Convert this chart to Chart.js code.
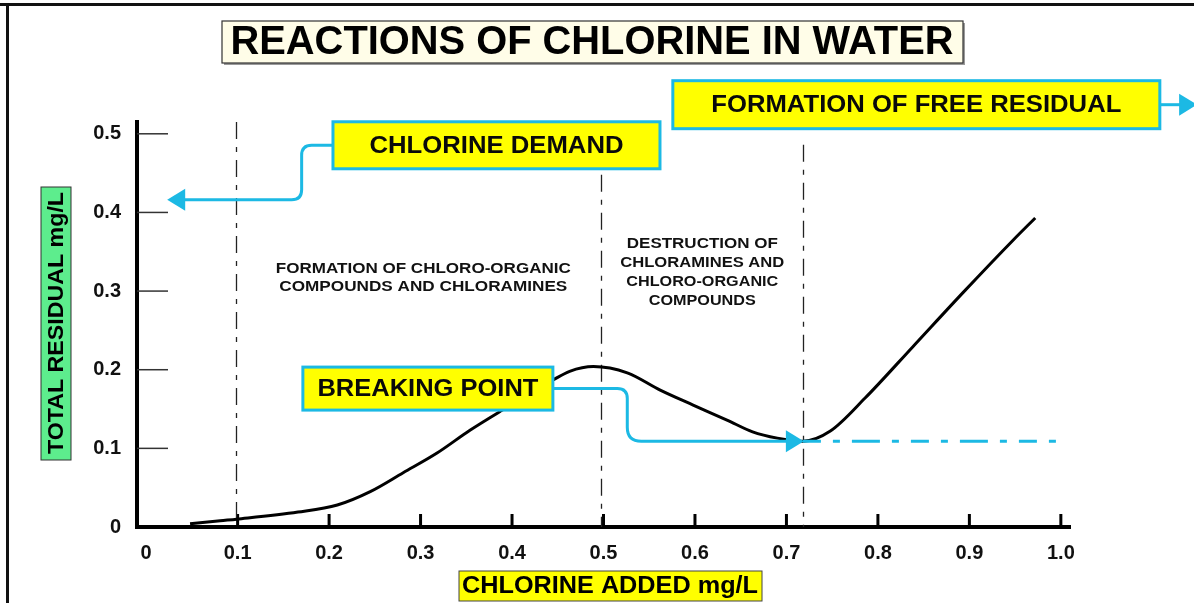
<!DOCTYPE html>
<html>
<head>
<meta charset="utf-8">
<title>Reactions of chlorine in water</title>
<script src="https://cdn.jsdelivr.net/npm/chart.js@4.4.1/dist/chart.umd.min.js"></script>
<style>
    html, body { margin: 0; padding: 0; background: #fff; }
    #wrap { width: 1194px; height: 603px; }
</style>
</head>
<body>
<div id="wrap"><canvas id="myChart" width="1194" height="603"></canvas></div>
<script>
// breakpoint chlorination curve: chlorine added vs total residual (both mg/L)
const chlorineAdded = [0.048, 0.081, 0.099, 0.166, 0.209, 0.245, 0.281, 0.318, 0.354, 0.390, 0.445, 0.463, 0.489,
    0.526, 0.562, 0.598, 0.635, 0.663, 0.690, 0.718, 0.748, 0.786, 0.838, 0.893, 0.948, 0.972];
const totalResidual = [0.004, 0.008, 0.010, 0.019, 0.028, 0.045, 0.069, 0.094, 0.123, 0.149, 0.187, 0.198, 0.204,
    0.196, 0.174, 0.155, 0.136, 0.121, 0.113, 0.109, 0.122, 0.164, 0.229, 0.298, 0.365, 0.393];

const xTicks = [0, 0.1, 0.2, 0.3, 0.4, 0.5, 0.6, 0.7, 0.8, 0.9, 1.0];
const xTickLabels = ['0', '0.1', '0.2', '0.3', '0.4', '0.5', '0.6', '0.7', '0.8', '0.9', '1.0'];
const yTicks = [0, 0.1, 0.2, 0.3, 0.4, 0.5];
const yTickLabels = ['0', '0.1', '0.2', '0.3', '0.4', '0.5'];

// dashed lines splitting the three zones (chlorine added) and the residual where each one starts
const zoneBounds = [0.098, 0.497, 0.718];
const zoneTops = [0.515, 0.448, 0.486];

// breaking point, and where the free residual line stops
const breakPoint = { x: 0.718, y: 0.109 };
const freeResidualEnd = 1.006;

const zoneTexts = [
    ['FORMATION OF CHLORO-ORGANIC', 'COMPOUNDS AND CHLORAMINES'],
    ['DESTRUCTION OF', 'CHLORAMINES AND', 'CHLORO-ORGANIC', 'COMPOUNDS']
];

const CYAN = '#1cb9e4';
const BOLD = '"Liberation Sans", Arial, sans-serif';

// draws text squeezed/stretched to a given width, centred on cx, cy
const fitText = (c, text, cx, cy, width, font) => {
    c.save();
    c.font = font;
    let w = c.measureText(text).width;
    c.translate(cx, cy);
    c.scale(width / w, 1);
    c.textAlign = 'center';
    c.textBaseline = 'middle';
    c.fillText(text, 0, 0);
    c.restore();
};

const arrowHead = (c, tipX, tipY, dir) => {
    c.beginPath();
    c.moveTo(tipX, tipY);
    c.lineTo(tipX - dir * 18, tipY - 11);
    c.lineTo(tipX - dir * 18, tipY + 11);
    c.closePath();
    c.fill();
};

const calloutBox = (c, cx, cy, w, h, text, textW) => {
    c.fillStyle = '#ffff00';
    c.fillRect(cx - w / 2, cy - h / 2, w, h);
    c.strokeStyle = CYAN;
    c.lineWidth = 3;
    c.strokeRect(cx - w / 2, cy - h / 2, w, h);
    c.fillStyle = '#0a0a0a';
    fitText(c, text, cx, cy + 1, textW, 'bold 24px ' + BOLD);
};

const diagram = {
    id: 'diagram',
    beforeDraw(chart) {
        const c = chart.ctx;
        c.save();
        // page frame
        c.fillStyle = '#111';
        c.fillRect(0, 3, chart.width, 3);
        c.fillRect(6, 3, 3, chart.height);

        // title
        c.fillStyle = '#9a9a9a';
        c.fillRect(224, 23, 741, 42);
        c.fillStyle = '#fffde8';
        c.fillRect(222, 21, 741, 42);
        c.strokeStyle = '#333';
        c.lineWidth = 1.2;
        c.strokeRect(222, 21, 741, 42);
        c.fillStyle = '#000';
        fitText(c, 'REACTIONS OF CHLORINE IN WATER', 592, 43, 723, 'bold 41px "Liberation Sans Narrow", ' + BOLD);

        // axis titles
        c.fillStyle = '#5ded8d';
        c.fillRect(41, 187, 30, 273);
        c.strokeStyle = '#333';
        c.lineWidth = 1;
        c.strokeRect(41, 187, 30, 273);
        c.save();
        c.translate(57, 323);
        c.rotate(-Math.PI / 2);
        c.fillStyle = '#000';
        fitText(c, 'TOTAL RESIDUAL mg/L', 0, 0, 262, 'bold 22px ' + BOLD);
        c.restore();

        c.fillStyle = '#ffff00';
        c.fillRect(459, 571, 303, 30);
        c.strokeStyle = '#444';
        c.strokeRect(459, 571, 303, 30);
        c.fillStyle = '#000';
        fitText(c, 'CHLORINE ADDED mg/L', 610, 587, 296, 'bold 23px ' + BOLD);
        c.restore();
    },
    beforeDatasetsDraw(chart) {
        const c = chart.ctx;
        const x = chart.scales.x, y = chart.scales.y;
        const area = chart.chartArea;
        c.save();

        // tick marks point into the plot
        c.strokeStyle = '#000';
        c.lineWidth = 3;
        xTicks.slice(1).forEach(v => {
            let p = x.getPixelForValue(v);
            c.beginPath();
            c.moveTo(p, area.bottom);
            c.lineTo(p, area.bottom - 13);
            c.stroke();
        });
        c.strokeStyle = '#333';
        c.lineWidth = 1.5;
        yTicks.slice(1).forEach(v => {
            let p = y.getPixelForValue(v);
            c.beginPath();
            c.moveTo(area.left, p);
            c.lineTo(area.left + 31, p);
            c.stroke();
        });

        // zone boundaries
        c.strokeStyle = '#222';
        c.lineWidth = 1.3;
        c.setLineDash([17, 8, 5, 8]);
        zoneBounds.forEach((v, i) => {
            let p = Math.round(x.getPixelForValue(v)) + 0.5;
            c.beginPath();
            c.moveTo(p, y.getPixelForValue(zoneTops[i]));
            c.lineTo(p, area.bottom);
            c.stroke();
        });
        c.setLineDash([]);

        // zone descriptions
        c.fillStyle = '#111';
        const font = 'bold 14px ' + BOLD;
        const leftW = [295, 288];
        const rightW = [151, 164, 152, 107];
        zoneTexts[0].forEach((t, i) => {
            fitText(c, t, x.getPixelForValue(0.303), y.getPixelForValue(0.328) + i * 18, leftW[i], font);
        });
        zoneTexts[1].forEach((t, i) => {
            fitText(c, t, x.getPixelForValue(0.608), y.getPixelForValue(0.360) + i * 19, rightW[i], font);
        });
        c.restore();
    },
    afterDatasetsDraw(chart) {
        const c = chart.ctx;
        const x = chart.scales.x, y = chart.scales.y;
        c.save();
        const bx = x.getPixelForValue(breakPoint.x);
        const by = y.getPixelForValue(breakPoint.y);

        // free residual level after the breaking point
        c.strokeStyle = CYAN;
        c.lineWidth = 3;
        c.setLineDash([18, 12, 7, 12, 28, 12, 7, 12]);
        c.beginPath();
        c.moveTo(bx, by);
        c.lineTo(x.getPixelForValue(freeResidualEnd), by);
        c.stroke();
        c.setLineDash([]);

        // CHLORINE DEMAND callout, arrow back to the residual axis
        const dX = x.getPixelForValue(0.383), dY = y.getPixelForValue(0.4854);
        const dBend = x.getPixelForValue(0.170), dArrowY = y.getPixelForValue(0.416);
        const dTip = x.getPixelForValue(0.023);
        c.strokeStyle = CYAN;
        c.fillStyle = CYAN;
        c.lineWidth = 3;
        c.beginPath();
        c.moveTo(dX - 163, dY);
        c.lineTo(dBend + 10, dY);
        c.quadraticCurveTo(dBend, dY, dBend, dY + 10);
        c.lineTo(dBend, dArrowY - 10);
        c.quadraticCurveTo(dBend, dArrowY, dBend - 10, dArrowY);
        c.lineTo(dTip + 10, dArrowY);
        c.stroke();
        arrowHead(c, dTip, dArrowY, -1);
        calloutBox(c, dX, dY, 327, 47, 'CHLORINE DEMAND', 254);

        // FORMATION OF FREE RESIDUAL callout
        const fX = x.getPixelForValue(0.842), fY = y.getPixelForValue(0.537);
        const fTip = x.getPixelForValue(1.149);
        c.strokeStyle = CYAN;
        c.fillStyle = CYAN;
        c.beginPath();
        c.moveTo(fX + 243, fY);
        c.lineTo(fTip - 10, fY);
        c.stroke();
        arrowHead(c, fTip, fY, 1);
        calloutBox(c, fX, fY, 487, 48, 'FORMATION OF FREE RESIDUAL', 410);

        // BREAKING POINT callout, arrow to the minimum of the curve
        const kX = x.getPixelForValue(0.308), kY = y.getPixelForValue(0.176);
        const kBend = x.getPixelForValue(0.526);
        c.strokeStyle = CYAN;
        c.fillStyle = CYAN;
        c.beginPath();
        c.moveTo(kX + 125, kY);
        c.lineTo(kBend - 10, kY);
        c.quadraticCurveTo(kBend, kY, kBend, kY + 10);
        c.lineTo(kBend, by - 14);
        c.quadraticCurveTo(kBend, by, kBend + 14, by);
        c.lineTo(bx - 10, by);
        c.stroke();
        arrowHead(c, bx + 1, by, 1);
        calloutBox(c, kX, kY, 250, 43, 'BREAKING POINT', 221);
        c.restore();
    }
};

const tickFont = { family: BOLD, size: 20, weight: 'bold' };

const ctx = document.getElementById('myChart');
const myChart = new Chart(ctx, {
    type: 'line',
    data: {
        datasets: [{
            label: 'Total residual',
            data: chlorineAdded.map((v, i) => ({ x: v, y: totalResidual[i] })),
            borderColor: '#000',
            borderWidth: 3,
            pointRadius: 0,
            cubicInterpolationMode: 'monotone',
            fill: false
        }]
    },
    options: {
        responsive: false,
        animation: false,
        devicePixelRatio: 1,
        layout: { padding: { top: 122, right: 124, left: 0, bottom: 0 } },
        plugins: {
            legend: { display: false },
            tooltip: { enabled: false }
        },
        scales: {
            x: {
                type: 'linear',
                min: -0.01,
                max: 1.01,
                afterBuildTicks: scale => { scale.ticks = xTicks.map(v => ({ value: v })); },
                afterFit: scale => { scale.height = 76; },
                grid: { display: false, drawTicks: false },
                border: { display: true, color: '#000', width: 4 },
                ticks: {
                    callback: (value, index) => xTickLabels[index],
                    font: tickFont,
                    color: '#111',
                    padding: 14,
                    maxRotation: 0,
                    autoSkip: false
                }
            },
            y: {
                type: 'linear',
                min: 0,
                max: 0.515,
                afterBuildTicks: scale => { scale.ticks = yTicks.map(v => ({ value: v })); },
                afterFit: scale => { scale.width = 137; },
                grid: { display: false, drawTicks: false },
                border: { display: true, color: '#000', width: 4 },
                ticks: {
                    callback: (value, index) => yTickLabels[index],
                    font: tickFont,
                    color: '#111',
                    padding: 16,
                    autoSkip: false
                }
            }
        }
    },
    plugins: [diagram]
});
</script>
</body>
</html>
